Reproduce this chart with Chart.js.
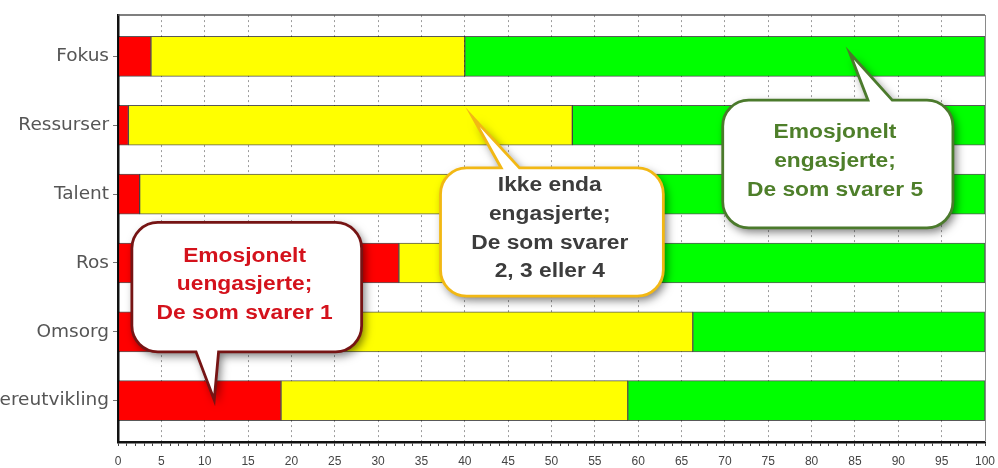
<!DOCTYPE html>
<html>
<head>
<meta charset="utf-8">
<script src="https://cdn.jsdelivr.net/npm/chart.js@4.4.1/dist/chart.umd.min.js"></script>
<style>
  html, body { margin: 0; padding: 0; background: #fff; }
  #chart { display: block; }
</style>
</head>
<body>
<canvas id="chart" width="998" height="468"></canvas>
<script>
// Categories, top to bottom
const categories = ['Fokus', 'Ressurser', 'Talent', 'Ros', 'Omsorg', 'Karriereutvikling'];

// Share (%) answering 1, 2-4 and 5
const uengasjerte = [3.8, 1.2, 2.5, 32.4, 12.6, 18.8];
const ikkeEnda = [36.2, 51.2, 47.5, 22.6, 53.7, 40.0];
const engasjerte = [60.0, 47.6, 50.0, 45.0, 33.7, 41.2];

// Labelled ticks on the value axis
const xTickLabels = [0, 5, 10, 15, 20, 25, 30, 35, 40, 45, 50, 55, 60, 65, 70, 75, 80, 85, 90, 95, 100];

// Speech bubbles, placed in data units (x = percent, y = category index)
const callouts = [
  {
    lines: ['Emosjonelt', 'uengasjerte;', 'De som svarer 1'],
    box: [1.6, 2.41, 28.1, 4.29], side: 'bottom', base: [9.0, 11.6], tip: [11.1, 4.99],
    textX: 14.6, textY: [2.90, 3.31, 3.73],
    border: '#761414', text: '#d4121c'
  },
  {
    lines: ['Ikke enda', 'engasjerte;', 'De som svarer', '2, 3 eller 4'],
    box: [37.2, 1.62, 62.9, 3.48], side: 'top', base: [44.2, 46.3], tip: [40.9, 0.88],
    textX: 49.8, textY: [1.87, 2.29, 2.71, 3.13],
    border: '#f2b814', text: '#3c3c3c'
  },
  {
    lines: ['Emosjonelt', 'engasjerte;', 'De som svarer 5'],
    box: [69.75, 0.635, 96.3, 2.49], side: 'top', base: [86.5, 89.3], tip: [84.4, -0.05],
    textX: 82.7, textY: [1.10, 1.52, 1.94],
    border: '#4b7a2c', text: '#4e7f2a'
  }
];

function toPoints(values) {
  return values.map((v, i) => ({ x: v, y: i }));
}

function bubblePath(ctx, l, t, r, b, rad, side, bl, br, tip) {
  ctx.beginPath();
  ctx.moveTo(l + rad, t);
  if (side === 'top') {
    ctx.lineTo(bl, t);
    ctx.lineTo(tip.x, tip.y);
    ctx.lineTo(br, t);
  }
  ctx.lineTo(r - rad, t);
  ctx.arcTo(r, t, r, t + rad, rad);
  ctx.lineTo(r, b - rad);
  ctx.arcTo(r, b, r - rad, b, rad);
  if (side === 'bottom') {
    ctx.lineTo(br, b);
    ctx.lineTo(tip.x, tip.y);
    ctx.lineTo(bl, b);
  }
  ctx.lineTo(l + rad, b);
  ctx.arcTo(l, b, l, b - rad, rad);
  ctx.lineTo(l, t + rad);
  ctx.arcTo(l, t, l + rad, t, rad);
  ctx.closePath();
}

const framePlugin = {
  id: 'frame',
  afterDatasetsDraw(chart) {
    const { ctx, chartArea: a } = chart;
    ctx.save();
    ctx.strokeStyle = '#555';
    ctx.lineWidth = 1.5;
    ctx.beginPath();
    ctx.moveTo(a.left, a.top);
    ctx.lineTo(a.right, a.top);
    ctx.stroke();
    ctx.strokeStyle = '#8a8a8a';
    ctx.lineWidth = 1;
    ctx.beginPath();
    ctx.moveTo(a.right + 0.5, a.top);
    ctx.lineTo(a.right + 0.5, a.bottom);
    ctx.stroke();
    ctx.restore();
  }
};

const calloutPlugin = {
  id: 'callouts',
  afterDraw(chart) {
    const { ctx } = chart;
    const xs = chart.scales.x;
    const ys = chart.scales.y;
    callouts.forEach(c => {
      const l = xs.getPixelForValue(c.box[0]);
      const t = ys.getPixelForValue(c.box[1]);
      const r = xs.getPixelForValue(c.box[2]);
      const b = ys.getPixelForValue(c.box[3]);
      const bl = xs.getPixelForValue(c.base[0]);
      const br = xs.getPixelForValue(c.base[1]);
      const tip = { x: xs.getPixelForValue(c.tip[0]), y: ys.getPixelForValue(c.tip[1]) };

      ctx.save();
      bubblePath(ctx, l, t, r, b, 26, c.side, bl, br, tip);
      ctx.shadowColor = 'rgba(0, 0, 0, 0.55)';
      ctx.shadowBlur = 10;
      ctx.shadowOffsetX = 3;
      ctx.shadowOffsetY = 4;
      ctx.fillStyle = '#fff';
      ctx.fill();
      ctx.shadowColor = 'transparent';
      ctx.lineWidth = 2.8;
      ctx.strokeStyle = c.border;
      ctx.stroke();

      ctx.fillStyle = c.text;
      ctx.font = "bold 20px 'Liberation Sans', Arial, sans-serif";
      ctx.textAlign = 'center';
      ctx.textBaseline = 'middle';
      const tx = xs.getPixelForValue(c.textX);
      c.lines.forEach((line, i) => {
        ctx.save();
        ctx.translate(tx, ys.getPixelForValue(c.textY[i]));
        ctx.scale(1.14, 1);
        ctx.fillText(line, 0, 0);
        ctx.restore();
      });
      ctx.restore();
    });
  }
};

const barStyle = {
  borderColor: 'rgba(0, 0, 0, 0.65)',
  borderWidth: 1,
  borderSkipped: false,
  barThickness: 40
};

new Chart(document.getElementById('chart'), {
  type: 'bar',
  data: {
    datasets: [
      { label: 'Emosjonelt uengasjerte', data: toPoints(uengasjerte), backgroundColor: '#ff0000', ...barStyle },
      { label: 'Ikke enda engasjerte', data: toPoints(ikkeEnda), backgroundColor: '#ffff00', ...barStyle },
      { label: 'Emosjonelt engasjerte', data: toPoints(engasjerte), backgroundColor: '#00ff00', ...barStyle }
    ]
  },
  options: {
    indexAxis: 'y',
    responsive: false,
    animation: false,
    layout: { padding: { top: 15, right: 13, left: 0, bottom: 0 } },
    plugins: {
      legend: { display: false },
      tooltip: { enabled: false }
    },
    scales: {
      x: {
        type: 'linear',
        min: 0,
        max: 100,
        stacked: true,
        afterFit: (scale) => {
          scale.height = 26;
          scale.paddingLeft = 0;
          scale.paddingRight = 0;
        },
        ticks: {
          stepSize: 1,
          autoSkip: false,
          maxRotation: 0,
          padding: 8,
          color: '#444',
          font: { family: "'Liberation Sans', Arial, sans-serif", size: 12 },
          callback: (v) => xTickLabels.includes(v) ? String(v) : ''
        },
        grid: {
          color: (ctx) => (ctx.tick && xTickLabels.includes(ctx.tick.value)) ? '#9c9c9c' : 'rgba(0,0,0,0)',
          lineWidth: 1,
          tickLength: 4,
          tickColor: '#444'
        },
        border: { color: '#111', width: 2.5, dash: [2, 3] }
      },
      y: {
        type: 'linear',
        min: -0.6,
        max: 5.6,
        reverse: true,
        stacked: true,
        offset: false,
        afterBuildTicks: (scale) => { scale.ticks = categories.map((c, i) => ({ value: i })); },
        afterFit: (scale) => { scale.width = 118; },
        ticks: {
          autoSkip: false,
          padding: 4,
          color: '#555',
          font: { family: "'DejaVu Sans', sans-serif", size: 18.5 },
          callback: (v) => categories[v] ?? ''
        },
        grid: { drawOnChartArea: false, offset: false, tickLength: 5, tickColor: '#777' },
        border: { color: '#111', width: 2.5 }
      }
    }
  },
  plugins: [framePlugin, calloutPlugin]
});
</script>
</body>
</html>
